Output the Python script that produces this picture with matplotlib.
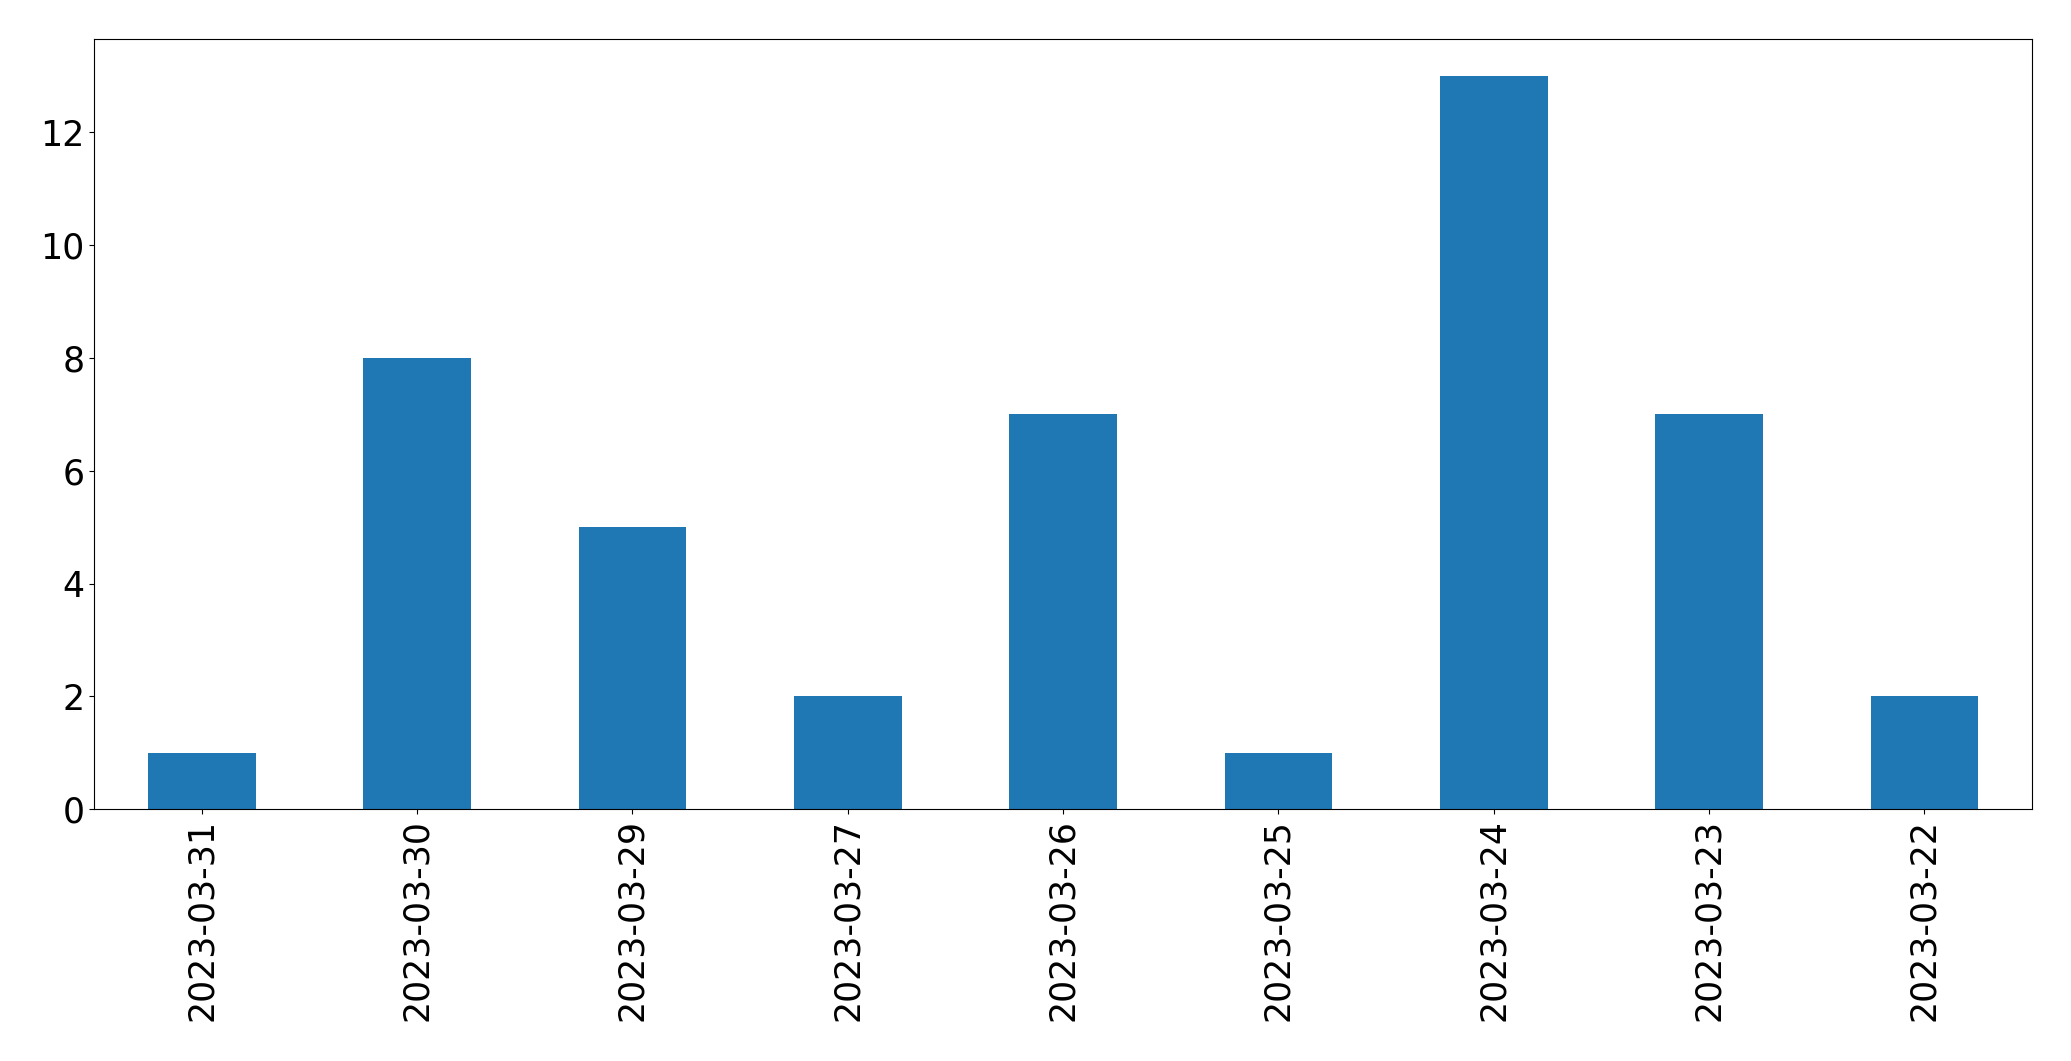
import matplotlib
matplotlib.use("Agg")
import matplotlib.pyplot as plt
import pandas as pd

# daily counts, in the order shown on the chart
dates = ["2023-03-31", "2023-03-30", "2023-03-29", "2023-03-27", "2023-03-26",
         "2023-03-25", "2023-03-24", "2023-03-23", "2023-03-22"]
counts = [1, 8, 5, 2, 7, 1, 13, 7, 2]

series = pd.Series(counts, index=dates)

fig = plt.figure(figsize=(20.71, 10.61), dpi=100)
ax = fig.add_axes([0.0454, 0.2375, 0.9358, 0.7253])
series.plot(kind="bar", ax=ax, color="#1f77b4", fontsize=25)
ax.set_xlabel("")

fig.savefig("out.png", dpi=100)
